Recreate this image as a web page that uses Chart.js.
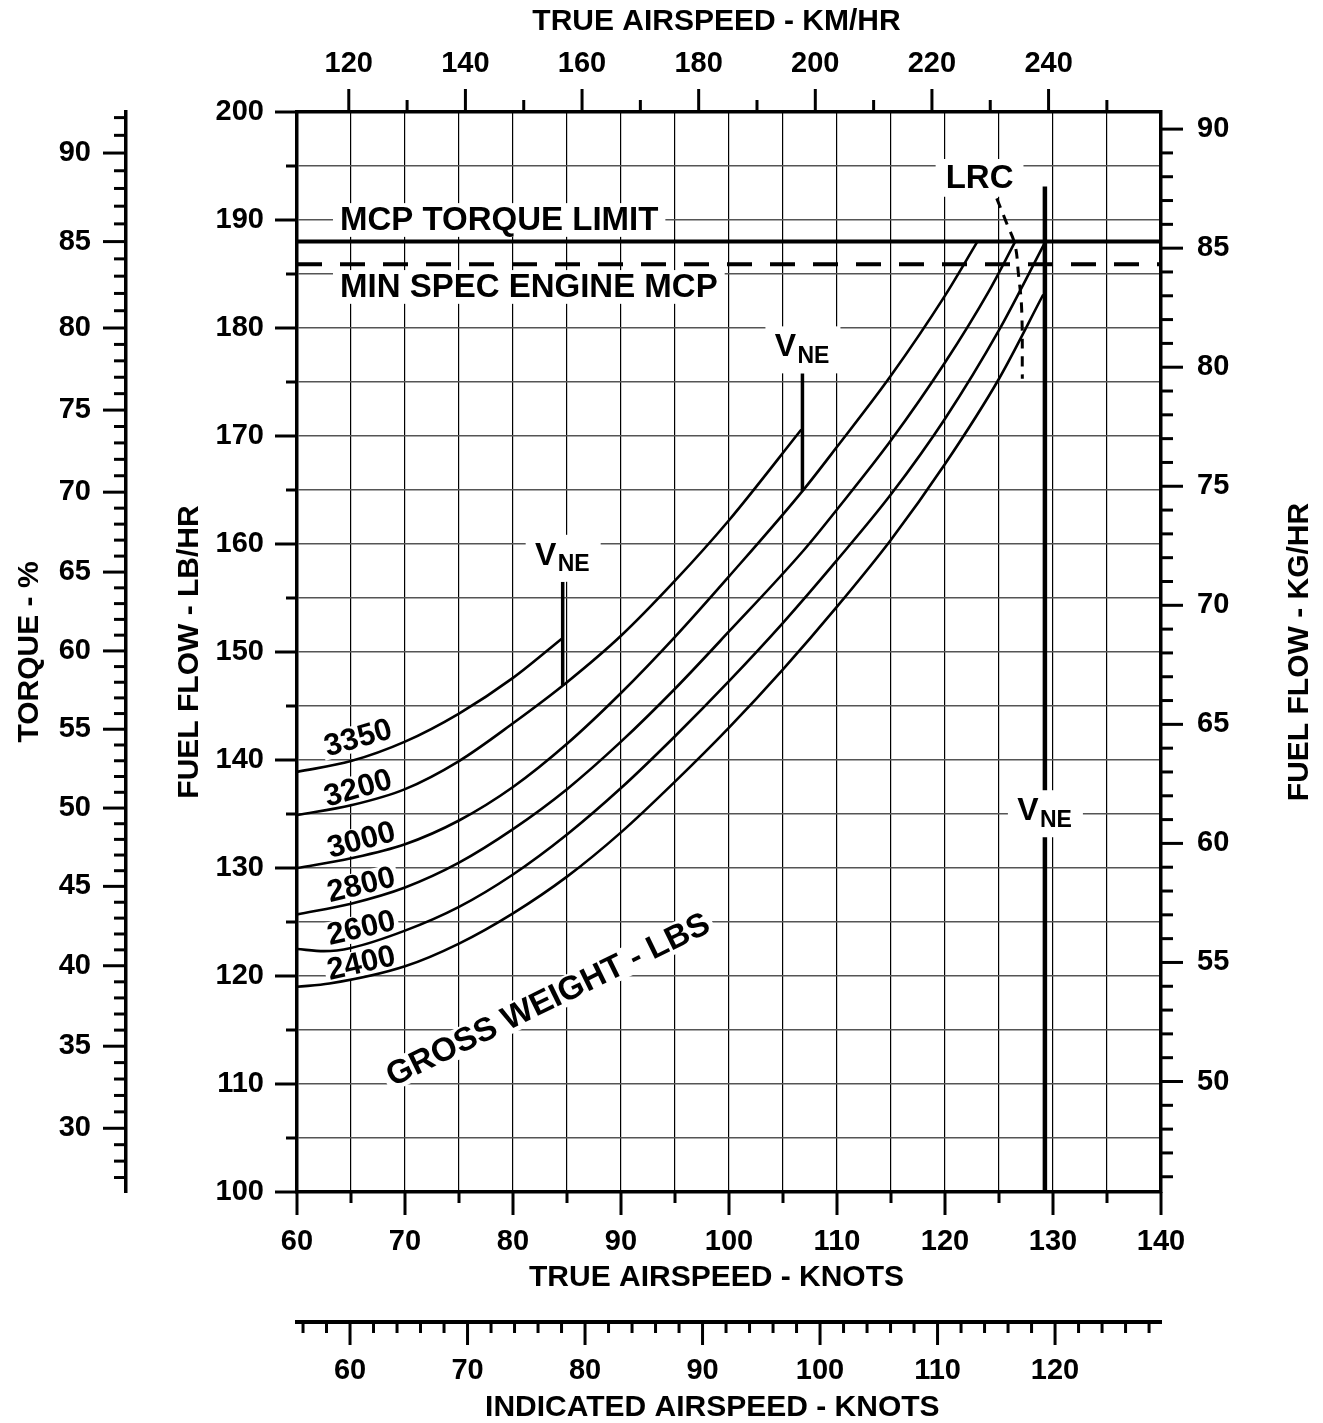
<!DOCTYPE html>
<html><head><meta charset="utf-8">
<script src="https://cdn.jsdelivr.net/npm/chart.js@4.4.0/dist/chart.umd.min.js"></script>
<style>html,body{margin:0;padding:0;background:#fff}canvas{display:block}</style>
</head><body>
<canvas id="c" width="1323" height="1423"></canvas>
<script>
// ---------------- DATA ----------------
const weightLabels = ['3350', '3200', '3000', '2800', '2600', '2400'];
const tas3350 = [60, 65, 70, 75, 80, 84.6];
const ff3350  = [138.9, 139.9, 141.7, 144.3, 147.6, 151.3];
const tas3200 = [60, 65, 70, 75, 80, 85, 90, 95, 100, 106.7];
const ff3200  = [134.9, 135.8, 137.3, 139.9, 143.4, 147.2, 151.5, 156.6, 162.2, 170.6];
const tas3000 = [60, 65, 70, 75, 80, 85, 90, 95, 100, 106.8, 110, 115, 120, 123];
const ff3000  = [130.0, 130.9, 132.2, 134.4, 137.5, 141.5, 146.2, 151.4, 157.0, 164.9, 169.0, 175.6, 183.0, 188.0];
const tas2800 = [60, 65, 70, 75, 80, 85, 90, 95, 100, 106.9, 110, 115, 120, 124, 126.5];
const ff2800  = [125.7, 126.7, 128.2, 130.5, 133.6, 137.3, 141.7, 146.6, 151.9, 159.4, 163.2, 169.6, 176.8, 183.3, 188.0];
const tas2600 = [60, 62.5, 65, 70, 75, 80, 85, 90, 95, 100, 105, 110, 115, 120, 125, 129.3];
const ff2600  = [122.5, 122.3, 122.6, 124.2, 126.4, 129.4, 133.1, 137.4, 142.2, 147.3, 152.7, 158.5, 164.6, 171.6, 179.8, 188.0];
const tas2400 = [60, 63, 70, 75, 80, 85, 90, 95, 100, 105, 110, 115, 120, 125, 129.1];
const ff2400  = [119.0, 119.3, 120.9, 123.0, 125.8, 129.2, 133.3, 138.0, 143.0, 148.4, 154.2, 160.4, 167.4, 175.3, 183.1];

const mcpTorqueFF = 188.0;      // MCP torque limit (85 %)
const minSpecFF = 185.9;        // min spec engine MCP
const vneTAS    = [84.6, 106.8, 129.25];
const vneTopFF  = [156.5, 175.8, 193.1];
const vneBotFF  = [146.9, 164.9, 100];
const lrcTAS = [124.79, 125.71, 126.48, 126.79, 127.10, 127.16];
const lrcFF  = [192.0, 189.7, 187.7, 185.1, 181.7, 175.3];

// axis ticks
const tasGrid  = [60,65,70,75,80,85,90,95,100,105,110,115,120,125,130,135,140];
const ffGrid   = [100,105,110,115,120,125,130,135,140,145,150,155,160,165,170,175,180,185,190,195,200];
const kmhTicks = [120,140,160,180,200,220,240];
const kgTicks  = [50,55,60,65,70,75,80,85,90];
const iasTicks = [60,70,80,90,100,110,120];
const torqueTicks = [30,35,40,45,50,55,60,65,70,75,80,85,90];
const torqueAtFF  = [105.9,113.5,120.95,128.3,135.55,142.85,150.1,157.4,164.8,172.4,180.0,188.0,196.2];
// indicated airspeed reference: IAS 60 and 120 read on the TAS scale
const iasRef    = [60, 120];
const iasRefTAS = [64.91, 130.19];

// ---------------- helpers ----------------
const FAM = '"Liberation Sans", Arial, Helvetica, sans-serif';
const fnt = (sz) => `bold ${sz}px ${FAM}`;
const range = (a, b, s) => { const r = []; for (let v = a; v <= b + 1e-9; v += s) r.push(Math.round(v * 1000) / 1000); return r; };
const iasPerTas = (iasRef[1] - iasRef[0]) / (iasRefTAS[1] - iasRefTAS[0]);
const tasToIas = t => iasRef[0] + (t - iasRefTAS[0]) * iasPerTas;
const torqueToFF = t => {
  const n = torqueTicks.length; let i = 0;
  if (t >= torqueTicks[n - 1]) i = n - 2;
  else if (t > torqueTicks[0]) { while (t > torqueTicks[i + 1]) i++; }
  const t0 = torqueTicks[i], t1 = torqueTicks[i + 1];
  return torqueAtFF[i] + (t - t0) * (torqueAtFF[i + 1] - torqueAtFF[i]) / (t1 - t0);
};
const pts = (xs, ys) => xs.map((x, i) => ({x, y: ys[i]}));

const tickFont = {family: FAM, size: 29, weight: 'bold', lineHeight: 1.2};
const titleFont = {family: FAM, size: 30, weight: 'bold', lineHeight: 1};

function curve(xs, ys) {
  return {data: pts(xs, ys), borderColor: '#000', borderWidth: 2.6, pointRadius: 0, fill: false,
          cubicInterpolationMode: 'monotone', xAxisID: 'x', yAxisID: 'y'};
}
function straight(xs, ys, w, dash) {
  return {data: pts(xs, ys), borderColor: '#000', borderWidth: w, pointRadius: 0, fill: false,
          tension: 0, borderDash: dash || [], xAxisID: 'x', yAxisID: 'y'};
}

// ---------------- plugins ----------------
function textBox(ctx, text, cx, cy, size, angle, align, padX, padY) {
  ctx.save();
  ctx.font = fnt(size);
  const w = ctx.measureText(text).width;
  const h = size * 0.72;
  ctx.translate(cx, cy);
  ctx.rotate(angle * Math.PI / 180);
  const x0 = align === 'left' ? 0 : -w / 2;
  ctx.fillStyle = '#fff';
  ctx.fillRect(x0 - padX, -h / 2 - padY, w + 2 * padX, h + 2 * padY);
  ctx.fillStyle = '#000';
  ctx.textAlign = 'left';
  ctx.textBaseline = 'middle';
  ctx.fillText(text, x0, 1);
  ctx.restore();
}
function vneLabel(ctx, px, top) {
  ctx.save();
  ctx.fillStyle = '#fff';
  ctx.fillRect(px - 37, top, 75, 47);
  ctx.fillStyle = '#000';
  ctx.textAlign = 'center'; ctx.textBaseline = 'middle';
  ctx.font = fnt(32); ctx.fillText('V', px - 17, top + 21);
  ctx.font = fnt(23); ctx.fillText('NE', px + 11, top + 30);
  ctx.restore();
}

const labelsBelow = {
  id: 'labelsBelow',
  beforeDatasetsDraw(chart) {
    const {ctx, scales: s} = chart;
    const X = v => s.x.getPixelForValue(v), Y = v => s.y.getPixelForValue(v);
    const pos = [[65.65, 142.05, -16], [65.65, 137.4, -16], [65.95, 132.6, -15],
                 [65.95, 128.45, -14], [65.95, 124.45, -13], [65.95, 121.2, -13]];
    weightLabels.forEach((t, i) => textBox(ctx, t, X(pos[i][0]), Y(pos[i][1]), 31, pos[i][2], 'center', 3, 2));
    textBox(ctx, 'GROSS WEIGHT - LBS', X(83.25), Y(117.8), 33, -26, 'center', 4, 3);
  }
};

const labelsAbove = {
  id: 'labelsAbove',
  afterDatasetsDraw(chart) {
    const {ctx, scales: s} = chart;
    const X = v => s.x.getPixelForValue(v), Y = v => s.y.getPixelForValue(v);
    textBox(ctx, 'MCP TORQUE LIMIT', X(63.98), Y(190.0), 33, 0, 'left', 7, 5);
    textBox(ctx, 'MIN SPEC ENGINE MCP', X(63.98), Y(183.8), 33, 0, 'left', 7, 5);
    textBox(ctx, 'LRC', X(123.2), Y(193.9), 33, 0, 'center', 10, 7);
    vneLabel(ctx, X(vneTAS[0]), Y(vneTopFF[0]) - 47);
    vneLabel(ctx, X(vneTAS[1]), Y(vneTopFF[1]) - 47);
    vneLabel(ctx, X(vneTAS[2]), Y(137.2));
  }
};

const tickMarks = {
  id: 'tickMarks',
  afterDraw(chart) {
    const {ctx, chartArea: ca, scales: s} = chart;
    ctx.save();
    ctx.strokeStyle = '#000'; ctx.lineWidth = 3; ctx.lineCap = 'butt';
    const h = (sc, vals, y0, dir, len) => vals.forEach(v => {
      const p = sc.getPixelForValue(v); ctx.beginPath(); ctx.moveTo(p, y0); ctx.lineTo(p, y0 + dir * len(v)); ctx.stroke();
    });
    const vt = (sc, vals, x0, dir, len, map) => vals.forEach(v => {
      const p = sc.getPixelForValue(map ? map(v) : v); ctx.beginPath(); ctx.moveTo(x0, p); ctx.lineTo(x0 + dir * len(v), p); ctx.stroke();
    });
    h(s.x, tasGrid, ca.bottom, 1, v => v % 10 === 0 ? 23 : 11);
    h(s.kmh, range(120, 250, 10), ca.top, -1, v => v % 20 === 0 ? 23 : 12);
    h(s.ias, range(56, 128, 2), s.ias.top, 1, v => v % 10 === 0 ? 23 : 11);
    vt(s.y, ffGrid, ca.left, -1, v => v % 10 === 0 ? 22 : 11);
    vt(s.kg, range(46, 90, 1), ca.right, 1, v => v % 5 === 0 ? 22 : 12);
    vt(s.tq, range(27, 92, 1), s.tq.right, -1, v => v % 5 === 0 ? 23 : 12, torqueToFF);
    // right axis title (reads bottom to top)
    ctx.translate(s.kg.right - 23, (ca.top + ca.bottom) / 2);
    ctx.rotate(-Math.PI / 2);
    ctx.fillStyle = '#000'; ctx.font = fnt(30); ctx.textAlign = 'center'; ctx.textBaseline = 'middle';
    ctx.fillText('FUEL FLOW - KG/HR', 0, 0);
    ctx.restore();
  }
};

// ---------------- chart ----------------
const datasets = [
  curve(tas3350, ff3350), curve(tas3200, ff3200), curve(tas3000, ff3000),
  curve(tas2800, ff2800), curve(tas2600, ff2600), curve(tas2400, ff2400),
  straight([60, 140], [mcpTorqueFF, mcpTorqueFF], 4),
  straight([60, 140], [minSpecFF, minSpecFF], 4, [25, 18]),
  straight([vneTAS[0], vneTAS[0]], [vneTopFF[0], vneBotFF[0]], 3.5),
  straight([vneTAS[1], vneTAS[1]], [vneTopFF[1], vneBotFF[1]], 3.5),
  straight([vneTAS[2], vneTAS[2]], [vneTopFF[2], vneBotFF[2]], 4.5),
  Object.assign(straight(lrcTAS, lrcFF, 3, [10, 8]), {tension: 0.4})
];

const border = (w) => ({display: true, color: '#000', width: w});
const noGrid = {display: false, drawTicks: false, tickLength: 0};

new Chart(document.getElementById('c'), {
  type: 'line',
  data: {datasets},
  options: {
    responsive: false, animation: false, devicePixelRatio: 1,
    layout: {padding: 0},
    plugins: {legend: {display: false}, tooltip: {enabled: false}},
    scales: {
      x: {
        type: 'linear', axis: 'x', position: 'bottom', weight: 0, min: 60, max: 140,
        grid: {display: true, drawOnChartArea: true, drawTicks: false, color: '#000', lineWidth: 1.2},
        border: border(3.5),
        ticks: {autoSkip: false, maxRotation: 0, minRotation: 0, padding: 33, color: '#000', font: tickFont,
                callback: v => v % 10 === 0 ? String(v) : ''},
        afterBuildTicks: sc => { sc.ticks = tasGrid.map(v => ({value: v})); },
        afterFit: sc => { sc.height = 130; },
        title: {display: true, text: 'TRUE AIRSPEED - KNOTS   ', color: '#000', font: titleFont, padding: {top: 0, bottom: 29}}
      },
      ias: {
        type: 'linear', axis: 'x', position: 'bottom', weight: 1, min: tasToIas(60), max: tasToIas(140),
        grid: noGrid, border: border(4),
        ticks: {autoSkip: false, maxRotation: 0, minRotation: 0, padding: 32, color: '#000', font: tickFont,
                callback: v => String(v)},
        afterBuildTicks: sc => { sc.ticks = iasTicks.map(v => ({value: v})); },
        afterFit: sc => { sc.height = 101; },
        title: {display: true, text: 'INDICATED AIRSPEED - KNOTS    ', color: '#000', font: titleFont, padding: {top: 0, bottom: 0}}
      },
      kmh: {
        type: 'linear', axis: 'x', position: 'top', weight: 0, min: 60 * 1.852, max: 140 * 1.852,
        grid: noGrid, border: border(3.5),
        ticks: {autoSkip: false, maxRotation: 0, minRotation: 0, padding: 31, color: '#000', font: tickFont,
                callback: v => String(v)},
        afterBuildTicks: sc => { sc.ticks = kmhTicks.map(v => ({value: v})); },
        afterFit: sc => { sc.height = 112; },
        title: {display: true, text: 'TRUE AIRSPEED - KM/HR   ', color: '#000', font: titleFont, padding: {top: 7, bottom: 0}}
      },
      y: {
        type: 'linear', axis: 'y', position: 'left', weight: 0, min: 100, max: 200,
        grid: {display: true, drawOnChartArea: true, drawTicks: false, color: '#555', lineWidth: 1.5},
        border: border(3.5),
        ticks: {autoSkip: false, padding: 33, color: '#000', font: tickFont,
                callback: v => v % 10 === 0 ? String(v) : ''},
        afterBuildTicks: sc => { sc.ticks = ffGrid.map(v => ({value: v})); },
        afterFit: sc => { sc.width = 171; },
        title: {display: true, text: 'FUEL FLOW - LB/HR', color: '#000', font: titleFont, padding: {top: 49, bottom: 0}}
      },
      tq: {
        type: 'linear', axis: 'y', position: 'left', weight: 1, min: 100, max: 200,
        grid: noGrid, border: border(3.5),
        ticks: {autoSkip: false, padding: 35, color: '#000', font: tickFont,
                callback: (v, i) => String(torqueTicks[i])},
        afterBuildTicks: sc => { sc.ticks = torqueAtFF.map(v => ({value: v})); },
        afterFit: sc => { sc.width = 126; },
        title: {display: true, text: 'TORQUE - %', color: '#000', font: titleFont, padding: {top: 15, bottom: 0}}
      },
      kg: {
        type: 'linear', axis: 'y', position: 'right', weight: 0, min: 100 * 0.45359237, max: 200 * 0.45359237,
        grid: noGrid, border: border(3.5),
        ticks: {autoSkip: false, padding: 36, color: '#000', font: tickFont, callback: v => String(v)},
        afterBuildTicks: sc => { sc.ticks = kgTicks.map(v => ({value: v})); },
        afterFit: sc => { sc.width = 162; },
        title: {display: false}
      }
    }
  },
  plugins: [labelsBelow, labelsAbove, tickMarks]
});
</script>
</body></html>
